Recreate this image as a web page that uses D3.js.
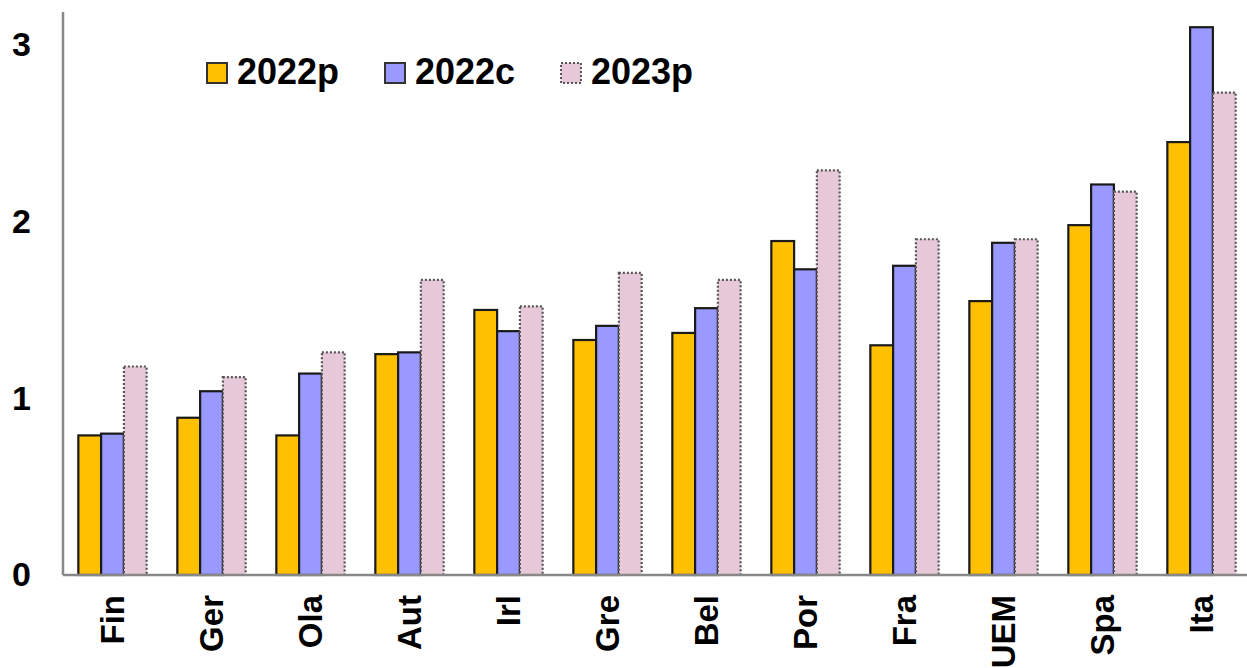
<!DOCTYPE html>
<html>
<head>
<meta charset="utf-8">
<script src="https://cdn.jsdelivr.net/npm/d3@7"></script>
<style>
  body { margin: 0; background: #fff; }
  text { font-family: "Liberation Sans", Arial, sans-serif; font-weight: bold; fill: #000; }
</style>
</head>
<body>
<div id="chart"></div>
<script>
var svgWidth = 1247;
var svgHeight = 668;

// data
var countries = ["Fin", "Ger", "Ola", "Aut", "Irl", "Gre", "Bel", "Por", "Fra", "UEM", "Spa", "Ita"];
var seriesNames = ["2022p", "2022c", "2023p"];
var v2022p = [0.79, 0.89, 0.79, 1.25, 1.50, 1.33, 1.37, 1.89, 1.30, 1.55, 1.98, 2.45];
var v2022c = [0.80, 1.04, 1.14, 1.26, 1.38, 1.41, 1.51, 1.73, 1.75, 1.88, 2.21, 3.10];
var v2023p = [1.18, 1.12, 1.26, 1.67, 1.52, 1.71, 1.67, 2.29, 1.90, 1.90, 2.17, 2.73];
var yTicks = [0, 1, 2, 3];

var colors = { "2022p": "#FFC000", "2022c": "#9999FF", "2023p": "#E6C8D8" };

var x0 = 63, x1 = 1251, yBase = 575;

var svg = d3.select("#chart").append("svg")
  .attr("width", svgWidth)
  .attr("height", svgHeight);

var rows = countries.map(function(c, i) {
  return { name: c, values: [
    { key: "2022p", value: v2022p[i] },
    { key: "2022c", value: v2022c[i] },
    { key: "2023p", value: v2023p[i] }
  ]};
});

var xScale = d3.scaleBand()
  .domain(countries)
  .range([x0, x1])
  .paddingInner(0.31)
  .paddingOuter(0.155);

var xSub = d3.scaleBand()
  .domain(seriesNames)
  .range([0, xScale.bandwidth()]);

var yScale = d3.scaleLinear()
  .domain([0, 3.2])
  .range([yBase, yBase - 3.2 * 176.7]);

// bars
var groups = svg.selectAll(".grp")
  .data(rows)
  .enter().append("g")
  .attr("class", "grp")
  .attr("transform", d => `translate(${xScale(d.name)},0)`);

groups.selectAll("rect")
  .data(d => d.values)
  .enter().append("rect")
  .attr("x", d => xSub(d.key))
  .attr("y", d => yScale(d.value))
  .attr("width", xSub.bandwidth())
  .attr("height", d => yScale(0) - yScale(d.value))
  .attr("fill", d => colors[d.key])
  .attr("stroke", d => d.key === "2023p" ? "#555" : "#1a1a1a")
  .attr("stroke-width", 2.2)
  .attr("stroke-dasharray", d => d.key === "2023p" ? "2,2" : null);

// y axis
var leftAxis = d3.axisLeft(yScale).tickValues(yTicks).tickSize(0).tickPadding(32).tickFormat(d3.format("d"));
var yAxis = svg.append("g")
  .attr("transform", `translate(${x0},0)`)
  .call(leftAxis);
yAxis.select(".domain").remove();
yAxis.selectAll("text").style("font-size", "34px").attr("font-family", null);

svg.append("line")
  .attr("x1", x0).attr("x2", x0)
  .attr("y1", 12).attr("y2", yBase)
  .attr("stroke", "#888").attr("stroke-width", 2.5);

// x axis
svg.append("line")
  .attr("x1", x0).attr("x2", svgWidth)
  .attr("y1", yBase).attr("y2", yBase)
  .attr("stroke", "#888").attr("stroke-width", 2.5);

svg.selectAll(".xlab")
  .data(countries)
  .enter().append("text")
  .attr("class", "xlab")
  .attr("transform", d => `translate(${xScale(d) + xScale.bandwidth() / 2},595) rotate(-90)`)
  .attr("text-anchor", "end")
  .attr("dy", "0.36em")
  .style("font-size", "33px")
  .text(d => d);

// legend
var legendX = [207, 385, 561];
var legend = svg.selectAll(".leg")
  .data(seriesNames)
  .enter().append("g")
  .attr("class", "leg")
  .attr("transform", (d, i) => `translate(${legendX[i]},63)`);

legend.append("rect")
  .attr("width", 20).attr("height", 20)
  .attr("fill", d => colors[d])
  .attr("stroke", d => d === "2023p" ? "#555" : "#333")
  .attr("stroke-width", 2)
  .attr("stroke-dasharray", d => d === "2023p" ? "2,2" : null);

legend.append("text")
  .attr("x", 30)
  .attr("y", 21)
  .style("font-size", "36px")
  .text(d => d);
</script>
</body>
</html>
